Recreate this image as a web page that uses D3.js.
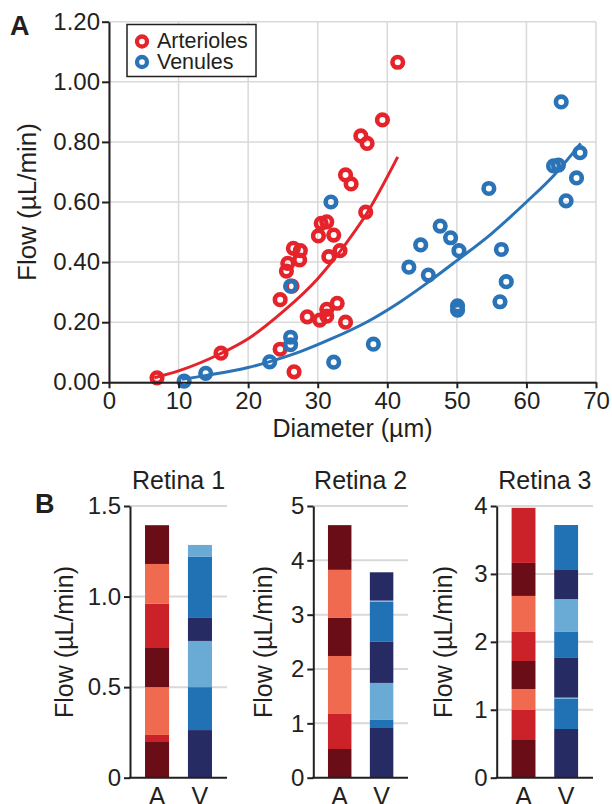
<!DOCTYPE html>
<html>
<head>
<meta charset="utf-8">
<script src="https://cdn.jsdelivr.net/npm/d3@7"></script>
<style>
  body { margin: 0; background: #fff; }
  text { font-family: "Liberation Sans", Arial, Helvetica, sans-serif; fill: #231f20; }
</style>
</head>
<body>
<svg width="612" height="804"></svg>
<script>
// ---- panel A data: diameter (um), flow (uL/min)
const arterioles = [
  [6.9, 0.015], [16.1, 0.097], [24.6, 0.11], [24.6, 0.275], [26.6, 0.035],
  [25.5, 0.37], [25.7, 0.396], [26.5, 0.446], [27.5, 0.438], [27.4, 0.407],
  [26.3, 0.32], [28.5, 0.218], [30.3, 0.207], [31.3, 0.243], [31.3, 0.22],
  [32.8, 0.263], [34.0, 0.20], [30.1, 0.487], [30.5, 0.529], [31.3, 0.534],
  [32.3, 0.49], [31.6, 0.418], [33.2, 0.438], [36.9, 0.566], [34.0, 0.69],
  [34.8, 0.66], [36.2, 0.82], [37.1, 0.795], [39.3, 0.873], [41.5, 1.065]
]
const venules = [
  [10.8, 0.004], [13.9, 0.03], [23.1, 0.068], [26.1, 0.32], [26.1, 0.15],
  [26.1, 0.125], [32.3, 0.067], [38.0, 0.127], [31.9, 0.60], [43.1, 0.383],
  [44.8, 0.457], [45.9, 0.357], [47.6, 0.52], [49.1, 0.481], [50.3, 0.438],
  [50.1, 0.254], [50.1, 0.24], [54.6, 0.645], [56.4, 0.442], [57.1, 0.335],
  [56.2, 0.268], [65.0, 0.933], [67.7, 0.764], [63.9, 0.72], [64.6, 0.723],
  [67.2, 0.68], [65.7, 0.604]
]
// fitted curves
const arteriolesFit = [
  [6.5, 0.015], [10, 0.038], [16, 0.095], [20, 0.145], [25, 0.235],
  [30, 0.345], [34, 0.46], [37, 0.56], [41.5, 0.75]
]
const venulesFit = [
  [10.5, 0.01], [14, 0.023], [20, 0.049], [23, 0.068], [27.5, 0.102],
  [32, 0.145], [37, 0.2], [42, 0.27], [46, 0.335], [50, 0.405],
  [55, 0.495], [60, 0.6], [64, 0.69], [67.8, 0.795]
]
const xTicksA = [0, 10, 20, 30, 40, 50, 60, 70]
const yTicksA = [0, 0.2, 0.4, 0.6, 0.8, 1.0, 1.2]

// ---- panel B data: stacked flow per vessel, bottom to top
const retinaNames = ['Retina 1', 'Retina 2', 'Retina 3']
const vesselTypes = ['A', 'V']
const retina1A = [0.197, 0.039, 0.264, 0.216, 0.244, 0.22, 0.214]
const retina1AKind = ['a1', 'a2', 'a3', 'a1', 'a2', 'a3', 'a1']
const retina1V = [0.263, 0.237, 0.255, 0.127, 0.337, 0.066]
const retina1VKind = ['v1', 'v2', 'v3', 'v1', 'v2', 'v3']
const retina2A = [0.528, 0.645, 1.067, 0.70, 0.885, 0.823]
const retina2AKind = ['a1', 'a2', 'a3', 'a1', 'a3', 'a1']
const retina2V = [0.915, 0.148, 0.681, 0.756, 0.74, 0.02, 0.52]
const retina2VKind = ['v1', 'v2', 'v3', 'v1', 'v2', 'v3', 'v1']
const retina3A = [0.555, 0.442, 0.309, 0.412, 0.428, 0.53, 0.486, 0.811]
const retina3AKind = ['a1', 'a2', 'a3', 'a1', 'a2', 'a3', 'a1', 'a2']
const retina3V = [0.717, 0.447, 0.015, 0.584, 0.383, 0.484, 0.428, 0.662]
const retina3VKind = ['v1', 'v2', 'v3', 'v1', 'v2', 'v3', 'v1', 'v2']
const retinaMax = [1.5, 5, 4]
const retina1Ticks = [0, 0.5, 1.0, 1.5]
const retina2Ticks = [0, 1, 2, 3, 4, 5]
const retina3Ticks = [0, 1, 2, 3, 4]

const red = '#e5232a'
const blue = '#2a73b6'
const grid = '#d9d9d9'
const ink = '#231f20'

const kindColor = d3.scaleOrdinal()
  .domain(['a1', 'a2', 'a3', 'v1', 'v2', 'v3'])
  .range(['#6a0d17', '#cb2128', '#ef6a4e', '#272b63', '#2171b5', '#6aabd6'])

const svg = d3.select('svg')

// ================= panel A =================
const x = d3.scaleLinear().domain([0, 70]).range([109, 596])
const y = d3.scaleLinear().domain([0, 1.2]).range([382.3, 21.7])

const gA = svg.append('g')

// grid
gA.append('g').selectAll('line').data(xTicksA).join('line')
  .attr('x1', d => x(d)).attr('x2', d => x(d))
  .attr('y1', y(0)).attr('y2', y(1.2))
  .attr('stroke', grid).attr('stroke-width', 1.5)
gA.append('g').selectAll('line').data(yTicksA).join('line')
  .attr('x1', x(0)).attr('x2', x(70))
  .attr('y1', d => y(d)).attr('y2', d => y(d))
  .attr('stroke', grid).attr('stroke-width', 1.5)

// points
const ring = (data, color) => gA.append('g').selectAll('circle').data(data).join('circle')
  .attr('cx', d => x(d[0])).attr('cy', d => y(d[1]))
  .attr('r', 5.3)
  .attr('fill', 'none')
  .attr('stroke', color)
  .attr('stroke-width', 4.6)
ring(arterioles, red)
ring(venules, blue)

const line = d3.line()
  .x(d => x(d[0])).y(d => y(d[1]))
  .curve(d3.curveMonotoneX)
gA.append('path').attr('d', line(arteriolesFit))
  .attr('fill', 'none').attr('stroke', red).attr('stroke-width', 3)
gA.append('path').attr('d', line(venulesFit))
  .attr('fill', 'none').attr('stroke', blue).attr('stroke-width', 3)

// axes
const xAxis = gA.append('g')
  .attr('transform', `translate(0,${y(0)})`)
  .call(d3.axisBottom(x).tickValues(xTicksA).tickSize(6).tickSizeOuter(0).tickPadding(4))
const yAxis = gA.append('g')
  .attr('transform', `translate(${x(0)},0)`)
  .call(d3.axisLeft(y).tickValues(yTicksA).tickFormat(d3.format('.2f')).tickSize(7).tickSizeOuter(0).tickPadding(2))
for (const ax of [xAxis, yAxis]) {
  ax.select('.domain').attr('stroke', ink).attr('stroke-width', 2)
  ax.selectAll('.tick line').attr('stroke', ink).attr('stroke-width', 2)
  ax.selectAll('.tick text').attr('fill', ink).style('font-size', '24px')
    .style('font-family', '"Liberation Sans", Arial, sans-serif')
}

gA.append('text')
  .attr('x', (x(0) + x(70)) / 2).attr('y', 437)
  .attr('text-anchor', 'middle')
  .style('font-size', '25px')
  .text('Diameter (µm)')
gA.append('text')
  .attr('transform', `translate(36,${(y(0) + y(1.2)) / 2}) rotate(-90)`)
  .attr('text-anchor', 'middle')
  .style('font-size', '26px')
  .text('Flow (µL/min)')

// legend
const legend = gA.append('g')
legend.append('rect')
  .attr('x', 127).attr('y', 24.5).attr('width', 129).attr('height', 52)
  .attr('fill', '#fff').attr('stroke', ink).attr('stroke-width', 1.5)
const legendItems = [['Arterioles', red], ['Venules', blue]]
legend.selectAll('circle').data(legendItems).join('circle')
  .attr('cx', 142).attr('cy', (d, i) => 41.5 + i * 20.5)
  .attr('r', 5).attr('fill', 'none')
  .attr('stroke', d => d[1]).attr('stroke-width', 4.3)
legend.selectAll('text').data(legendItems).join('text')
  .attr('x', 157).attr('y', (d, i) => 48 + i * 20.5)
  .style('font-size', '21.5px')
  .text(d => d[0])

svg.append('text').attr('x', 10).attr('y', 35)
  .style('font-size', '27px').style('font-weight', 'bold').text('A')

// ================= panel B =================
svg.append('text').attr('x', 35).attr('y', 513)
  .style('font-size', '27px').style('font-weight', 'bold').text('B')

const panels = [
  { stacks: [[retina1A, retina1AKind], [retina1V, retina1VKind]], ticks: retina1Ticks,
    fmt: d => d === 0 ? '0' : d3.format('.1f')(d), left: 130, right: 227, titleX: 73 },
  { stacks: [[retina2A, retina2AKind], [retina2V, retina2VKind]], ticks: retina2Ticks,
    fmt: d3.format('d'), left: 313.3, right: 408, titleX: 272 },
  { stacks: [[retina3A, retina3AKind], [retina3V, retina3VKind]], ticks: retina3Ticks,
    fmt: d3.format('d'), left: 496.7, right: 593, titleX: 452 }
]

panels.forEach((p, i) => {
  const g = svg.append('g')
  const yb = d3.scaleLinear().domain([0, retinaMax[i]]).range([777.7, 506])
  const xb = d3.scaleBand().domain(vesselTypes).range([p.left, p.right])
    .paddingInner(0.44).paddingOuter(0.35)

  g.append('g').selectAll('line').data(p.ticks.filter(t => t > 0)).join('line')
    .attr('x1', p.left).attr('x2', p.right)
    .attr('y1', d => yb(d)).attr('y2', d => yb(d))
    .attr('stroke', grid).attr('stroke-width', 2)

  p.stacks.forEach(([vals, kinds], j) => {
    const ends = d3.cumsum(vals)
    const segs = vals.map((v, k) => ({ y0: ends[k] - v, y1: ends[k], kind: kinds[k] }))
    g.append('g').selectAll('rect').data(segs).join('rect')
      .attr('x', xb(vesselTypes[j]))
      .attr('width', xb.bandwidth())
      .attr('y', d => yb(d.y1))
      .attr('height', d => yb(d.y0) - yb(d.y1))
      .attr('fill', d => kindColor(d.kind))
  })

  const ax = g.append('g')
    .attr('transform', `translate(${p.left},0)`)
    .call(d3.axisLeft(yb).tickValues(p.ticks).tickFormat(p.fmt).tickSize(6).tickSizeOuter(0).tickPadding(3))
  ax.select('.domain').attr('stroke', ink).attr('stroke-width', 2)
  ax.selectAll('.tick line').attr('stroke', ink).attr('stroke-width', 2)
  ax.selectAll('.tick text').attr('fill', ink).style('font-size', '24px')
    .style('font-family', '"Liberation Sans", Arial, sans-serif')

  g.append('line')
    .attr('x1', p.left - 1).attr('x2', p.right)
    .attr('y1', yb(0)).attr('y2', yb(0))
    .attr('stroke', ink).attr('stroke-width', 2)

  g.selectAll('.vlab').data(vesselTypes).join('text')
    .attr('class', 'vlab')
    .attr('x', d => xb(d) + xb.bandwidth() / 2).attr('y', 805)
    .attr('text-anchor', 'middle')
    .style('font-size', '25px')
    .text(d => d)

  g.append('text')
    .attr('x', (p.left + p.right) / 2).attr('y', 489)
    .attr('text-anchor', 'middle')
    .style('font-size', '25px')
    .text(retinaNames[i])

  g.append('text')
    .attr('transform', `translate(${p.titleX},${642}) rotate(-90)`)
    .attr('text-anchor', 'middle')
    .style('font-size', '25px')
    .text('Flow (µL/min)')
})
</script>
</body>
</html>
